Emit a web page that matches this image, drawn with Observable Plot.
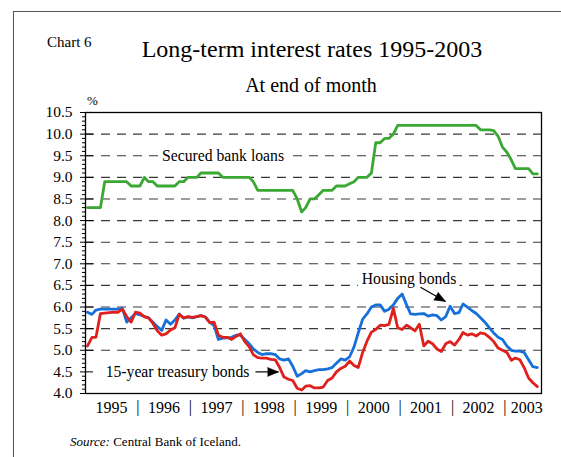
<!DOCTYPE html>
<html><head><meta charset="utf-8">
<script src="https://cdn.jsdelivr.net/npm/d3@7"></script>
<script src="https://cdn.jsdelivr.net/npm/@observablehq/plot@0.6"></script>
<style>
body{margin:0;background:#fff;}
#wrap{position:relative;width:561px;height:457px;overflow:hidden;font-family:'Liberation Serif','Times New Roman',Times,'DejaVu Serif',serif;color:#000;}
.t{position:absolute;white-space:nowrap;line-height:1;}
#border{position:absolute;left:13px;top:11px;width:700px;height:700px;border-left:1.5px solid #555;border-top:1.5px solid #555;}
#chart{position:absolute;left:0;top:0;}
</style></head><body>
<div id="wrap">
<div id="border"></div>
<div id="chart"></div>
<div class="t" style="left:47px;top:35px;font-size:15px">Chart 6</div>
<div class="t" style="left:0;width:624px;text-align:center;top:37px;font-size:24px">Long-term interest rates 1995-2003</div>
<div class="t" style="left:0;width:622px;text-align:center;top:75px;font-size:20px">At end of month</div>
<div class="t" style="left:87px;top:94px;font-size:13px">%</div>
<div class="t" style="left:70px;top:435px;font-size:13px"><i>Source:</i> Central Bank of Iceland.</div>
</div>
<script>
// Monthly observations, Jan 1995 - Aug 2003 (end of month)
const securedBankLoans = [
  8.3,8.3,8.3,8.3,8.9,8.9,8.9,8.9,8.9,8.9,8.8,8.8,
  8.8,9.0,8.9,8.9,8.8,8.8,8.8,8.8,8.8,8.9,8.9,9.0,
  9.0,9.0,9.1,9.1,9.1,9.1,9.1,9.0,9.0,9.0,9.0,9.0,
  9.0,9.0,8.9,8.7,8.7,8.7,8.7,8.7,8.7,8.7,8.7,8.7,
  8.5,8.2,8.3,8.5,8.5,8.6,8.7,8.7,8.7,8.8,8.8,8.8,
  8.85,8.9,9.0,9.0,9.0,9.1,9.8,9.8,9.9,9.9,10.0,10.2,
  10.2,10.2,10.2,10.2,10.2,10.2,10.2,10.2,10.2,10.2,10.2,10.2,
  10.2,10.2,10.2,10.2,10.2,10.2,10.1,10.1,10.1,10.08,9.95,9.7,
  9.58,9.4,9.2,9.2,9.2,9.2,9.08,9.08
];
const housingBonds = [
  5.88,5.83,5.93,5.95,5.95,5.95,5.95,5.95,5.97,5.65,5.75,5.85,
  5.82,5.78,5.75,5.65,5.55,5.46,5.7,5.6,5.7,5.84,5.74,5.77,
  5.75,5.78,5.8,5.77,5.65,5.57,5.25,5.28,5.29,5.3,5.35,5.35,
  5.25,5.15,5.03,4.95,4.9,4.92,4.92,4.9,4.8,4.77,4.8,4.63,
  4.4,4.46,4.53,4.5,4.53,4.55,4.55,4.57,4.6,4.7,4.8,4.77,
  4.85,5.08,5.4,5.72,5.84,6.0,6.05,6.05,5.9,5.95,6.05,6.2,
  6.3,6.05,5.84,5.83,5.84,5.85,5.79,5.82,5.8,5.7,5.78,6.02,
  5.85,5.87,6.07,6.0,5.92,5.85,5.75,5.65,5.52,5.4,5.3,5.25,
  5.1,5.0,4.98,4.98,4.95,4.78,4.62,4.6
];
const treasuryBonds = [
  5.1,5.3,5.3,5.85,5.86,5.87,5.88,5.88,5.95,5.78,5.65,5.88,
  5.86,5.78,5.75,5.62,5.45,5.35,5.38,5.47,5.52,5.83,5.75,5.78,
  5.76,5.78,5.8,5.77,5.64,5.65,5.35,5.3,5.3,5.25,5.32,5.38,
  5.2,5.08,4.9,4.83,4.82,4.82,4.79,4.78,4.6,4.38,4.33,4.3,
  4.12,4.08,4.17,4.18,4.13,4.13,4.15,4.3,4.36,4.5,4.58,4.63,
  4.75,4.65,4.6,4.95,5.21,5.42,5.48,5.58,5.57,5.6,5.97,5.52,
  5.48,5.58,5.52,5.45,5.6,5.1,5.21,5.15,5.03,4.97,5.15,5.2,
  5.12,5.25,5.41,5.35,5.38,5.33,5.4,5.38,5.3,5.2,5.05,5.0,
  4.95,4.77,4.82,4.78,4.6,4.36,4.25,4.16
];
const yearLabels = ["1995","1996","1997","1998","1999","2000","2001","2002","2003"];
const yearLabelDates = ["1995-07-01","1996-07-01","1997-07-01","1998-07-01","1999-07-01","2000-07-01","2001-07-01","2002-07-01","2003-06-03"].map(d => new Date(d));
const separatorDates = ["1996-01-01","1997-01-01","1998-01-01","1999-01-01","2000-01-01","2001-01-01","2002-01-01","2003-01-01"].map(d => new Date(d));
const majorTicks = [4.0,4.5,5.0,5.5,6.0,6.5,7.0,7.5,8.0,8.5,9.0,9.5,10.0,10.5];
const gridLevels = [5.0,5.5,6.0,6.5,7.0,7.5,8.0,8.5,9.0,9.5,10.0];
const minorTicks = d3.range(40, 106).filter(d => d % 5 !== 0).map(d => d / 10);
const seriesNames = ["Secured bank loans", "Housing bonds", "15-year treasury bonds"];

const table = securedBankLoans.map((v, i) => ({
  date: new Date(Date.UTC(1995, i, 15)),
  secured: v, housing: housingBonds[i], treasury: treasuryBonds[i]
}));

const labels = [
  {text: seriesNames[0], date: new Date("1997-08-16"), v: 9.5},
  {text: seriesNames[1], date: new Date("2001-03-04"), v: 6.66},
  {text: seriesNames[2], date: new Date("1996-10-03"), v: 4.5}
];
const arrows = [
  {x1: new Date("2001-05-23"), y1: 6.46, x2: new Date("2001-11-13"), y2: 6.13, rot: 119},
  {x1: new Date("1998-03-30"), y1: 4.5, x2: new Date("1998-09-07"), y2: 4.5, rot: 90}
];

const FONT = "'Liberation Serif','Times New Roman',Times,'DejaVu Serif',serif";
const W = 561, H = 457, ML = 85, MR = 20, FW = W - ML - MR;
const chart = Plot.plot({
  width: W, height: H,
  marginLeft: ML, marginRight: MR, marginTop: 112, marginBottom: 64,
  style: {fontFamily: FONT, fontSize: "15px", background: "transparent", overflow: "visible", color: "#000"},
  x: {type: "utc", domain: [new Date("1995-01-01"), new Date("2003-09-13")], axis: null},
  y: {domain: [4, 10.5]},
  marks: [
    Plot.ruleY(gridLevels, {stroke: "#3a3a3a", strokeWidth: 1.1, strokeDasharray: "9,7"}),
    Plot.ruleY(minorTicks, {insetLeft: -3, insetRight: FW, stroke: "#000", strokeWidth: 1}),
    Plot.ruleY(majorTicks, {insetLeft: -5, insetRight: FW - 8, stroke: "#000", strokeWidth: 1}),
    Plot.axisY(majorTicks, {tickSize: 0, tickPadding: 13, tickFormat: d3.format(".1f"), label: null, fontSize: 15.5, fontFamily: FONT}),
    Plot.text(yearLabels, {x: yearLabelDates, frameAnchor: "bottom", dy: 19, text: d => d, fontSize: 16, fontFamily: FONT}),
    Plot.text(separatorDates, {x: d => d, frameAnchor: "bottom", dy: 18, text: () => "|", fontSize: 16, fontFamily: FONT}),
    Plot.line(table, {x: "date", y: "secured", stroke: "#3aa832", strokeWidth: 2.8}),
    Plot.line(table, {x: "date", y: "housing", stroke: "#1670d8", strokeWidth: 2.8}),
    Plot.line(table, {x: "date", y: "treasury", stroke: "#e0201c", strokeWidth: 2.8}),
    Plot.text(labels, {x: "date", y: "v", text: "text", fontSize: 15.7, fontFamily: FONT, fill: "#000", stroke: "white", strokeWidth: 9}),
    Plot.link(arrows, {x1: "x1", y1: "y1", x2: "x2", y2: "y2", stroke: "#000", strokeWidth: 1.2}),
    Plot.vector(arrows, {x: "x2", y: "y2", rotate: "rot", length: 11, r: 4.5, shape: "spike", anchor: "end", fill: "#000", stroke: "#000", strokeWidth: 0.5}),
    Plot.frame({stroke: "#000", strokeWidth: 1.3})
  ]
});
document.getElementById("chart").appendChild(chart);
</script>
</body></html>
